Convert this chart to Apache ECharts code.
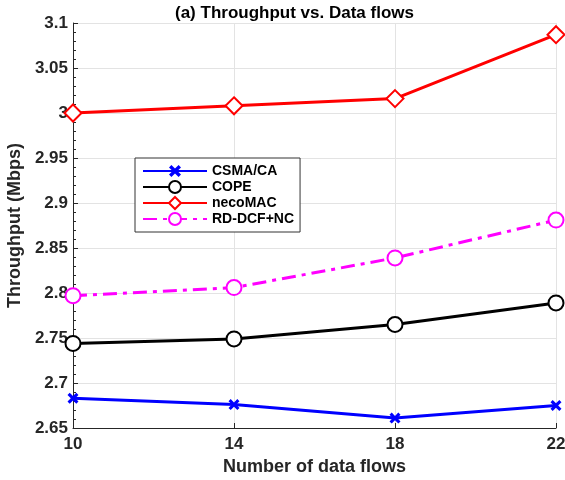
<!DOCTYPE html>
<html>
<head>
<meta charset="utf-8">
<script src="https://cdn.jsdelivr.net/npm/echarts@6/dist/echarts.min.js"></script>
<style>html,body{margin:0;padding:0;background:#fff}#c{width:565px;height:480px}</style>
</head>
<body>
<div id="c"></div>
<script>
const categories = ['10', '14', '18', '22'];
const csma = [2.683, 2.676, 2.661, 2.675];
const cope = [2.744, 2.749, 2.765, 2.789];
const necomac = [3.000, 3.008, 3.016, 3.087];
const rddcf = [2.797, 2.806, 2.839, 2.881];
const yTicks = { min: 2.65, max: 3.1, step: 0.05 };

const chart = echarts.init(document.getElementById('c'), null, { renderer: 'canvas' });
const font = 'Liberation Sans, Arial, Helvetica, sans-serif';
const txt = '#262626';
const crossPath = 'path://M0,2 L2,0 L5,3 L8,0 L10,2 L7,5 L10,8 L8,10 L5,7 L2,10 L0,8 L3,5 Z';

function mk(name, data, color, symbol, size, lineType, filled) {
  return {
    name, type: 'line', data,
    symbol, symbolSize: size,
    showAllSymbol: true,
    lineStyle: { color, width: 3, type: lineType },
    itemStyle: filled ? { color, borderColor: color, borderWidth: 0 } : { color, borderWidth: 3 },
    color,
    emphasis: { disabled: true },
    animation: false
  };
}

chart.setOption({
  animation: false,
  backgroundColor: '#fff',
  title: {
    text: '(a) Throughput vs. Data flows',
    left: 170, top: 0,
    textStyle: { fontFamily: font, fontWeight: 'bold', fontSize: 17, color: '#000' }
  },
  grid: { left: 73, right: 9, top: 23, bottom: 52, containLabel: false, outerBoundsMode: 'none' },
  legend: {
    orient: 'vertical', left: 135, top: 158,
    itemWidth: 64, itemHeight: 15, itemGap: 2,
    padding: [6, 6, 6, 7],
    borderColor: '#333', borderWidth: 1, backgroundColor: '#fff',
    textStyle: { fontFamily: font, fontWeight: 'bold', fontSize: 14, color: '#000' },
    data: ['CSMA/CA', 'COPE', 'necoMAC', 'RD-DCF+NC']
  },
  xAxis: {
    type: 'category', data: categories, boundaryGap: false,
    name: 'Number of data flows', nameLocation: 'middle', nameGap: 29,
    nameTextStyle: { fontFamily: font, fontWeight: 'bold', fontSize: 18, color: txt },
    axisLine: { lineStyle: { color: '#262626', width: 1 } },
    axisTick: { inside: true, length: 5, alignWithLabel: true, lineStyle: { color: '#262626' } },
    axisLabel: { fontFamily: font, fontWeight: 'bold', fontSize: 17, color: txt, margin: 8 },
    splitLine: { show: true, lineStyle: { color: '#e3e3e3' } }
  },
  yAxis: {
    type: 'value', min: yTicks.min, max: yTicks.max, interval: yTicks.step,
    name: 'Throughput (Mbps)', nameLocation: 'middle', nameGap: 46,
    nameTextStyle: { fontFamily: font, fontWeight: 'bold', fontSize: 18, color: txt },
    axisLine: { show: true, lineStyle: { color: '#262626', width: 1 } },
    axisTick: { show: true, inside: true, length: 5, lineStyle: { color: '#262626' } },
    minorTick: { show: true, splitNumber: 5, length: 3, lineStyle: { color: '#262626' } },
    axisLabel: {
      fontFamily: font, fontWeight: 'bold', fontSize: 17, color: txt, margin: 5,
      formatter: v => String(+v.toFixed(2))
    },
    splitLine: { show: true, lineStyle: { color: '#e3e3e3' } }
  },
  series: [
    mk('CSMA/CA', csma, '#0000ff', crossPath, 11, 'solid', true),
    mk('COPE', cope, '#000000', 'emptyCircle', 15, 'solid', false),
    mk('necoMAC', necomac, '#ff0000', 'emptyDiamond', 17, 'solid', false),
    mk('RD-DCF+NC', rddcf, '#ff00ff', 'emptyCircle', 15, [14, 6, 4, 6], false)
  ]
});
</script>
</body>
</html>
